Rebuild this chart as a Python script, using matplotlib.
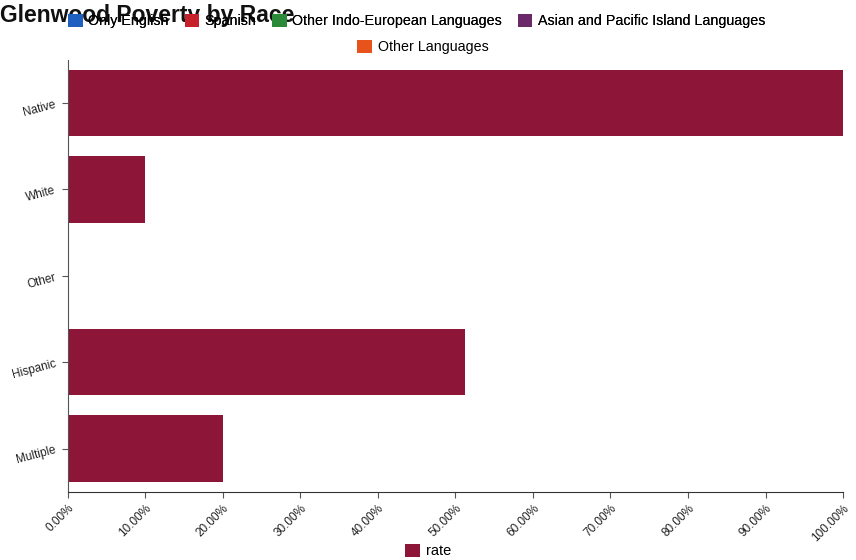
import matplotlib
matplotlib.use("Agg")
import matplotlib.pyplot as plt
from matplotlib.patches import Patch
from matplotlib.ticker import FuncFormatter, MultipleLocator

plt.rcParams['font.family'] = ['Liberation Sans', 'DejaVu Sans']

categories = ["Native", "White", "Other", "Hispanic", "Multiple"]
rate = [100.0, 10.0, 0.0, 51.3, 20.0]

legend_labels = ["Only English", "Spanish", "Other Indo-European Languages",
                 "Asian and Pacific Island Languages", "Other Languages"]
legend_colors = ["#1f5fbf", "#c8202a", "#2a8a3a", "#6a2a6a", "#e8531c"]
bar_color = "#8c1538"

fig = plt.figure(figsize=(8.56, 5.6), dpi=100)
ax = fig.add_axes([0.079, 0.122, 0.906, 0.771])

y = list(range(len(categories)))
ax.barh(y, rate, height=0.77, color=bar_color, zorder=2)
ax.set_ylim(len(categories) - 0.5, -0.5)
ax.set_xlim(0, 100)
ax.set_yticks(y)
ax.set_yticklabels(categories, rotation=15, fontsize=8.5, color="#222222")
ax.xaxis.set_major_locator(MultipleLocator(10))
ax.xaxis.set_major_formatter(FuncFormatter(lambda v, p: f"{v:.2f}%"))
for lbl in ax.get_xticklabels():
    lbl.set_rotation(45)
    lbl.set_ha("right")
    lbl.set_rotation_mode("anchor")
    lbl.set_fontsize(8.5)
    lbl.set_color("#222222")

for side in ("top", "right"):
    ax.spines[side].set_visible(False)
ax.spines["left"].set_color("#555555")
ax.spines["bottom"].set_color("#333333")
ax.tick_params(axis="both", colors="#555555", length=4, labelcolor="#222222")

fig.text(0.0, 0.972, "Glenwood Poverty by Race", fontsize=16.5, fontweight="bold",
         ha="left", va="center", color="#111111")

handles = [Patch(facecolor=c, label=l) for c, l in zip(legend_colors, legend_labels)]
leg1 = fig.legend(handles=handles[:4], loc="center", bbox_to_anchor=(0.487, 0.962),
                  ncol=4, frameon=False, fontsize=10.3, handlelength=1.0, handleheight=1.0,
                  handletextpad=0.4, columnspacing=1.1)
fig.add_artist(leg1)
fig.legend(handles=handles[4:], loc="center", bbox_to_anchor=(0.494, 0.916),
           frameon=False, fontsize=10.3, handlelength=1.0, handleheight=1.0,
           handletextpad=0.4)

fig.legend(handles=[Patch(facecolor=bar_color, label="rate")], loc="center",
           bbox_to_anchor=(0.5, 0.016), frameon=False, fontsize=10.5,
           handlelength=1.0, handleheight=1.0, handletextpad=0.4)

fig.savefig("out.png", dpi=100)
